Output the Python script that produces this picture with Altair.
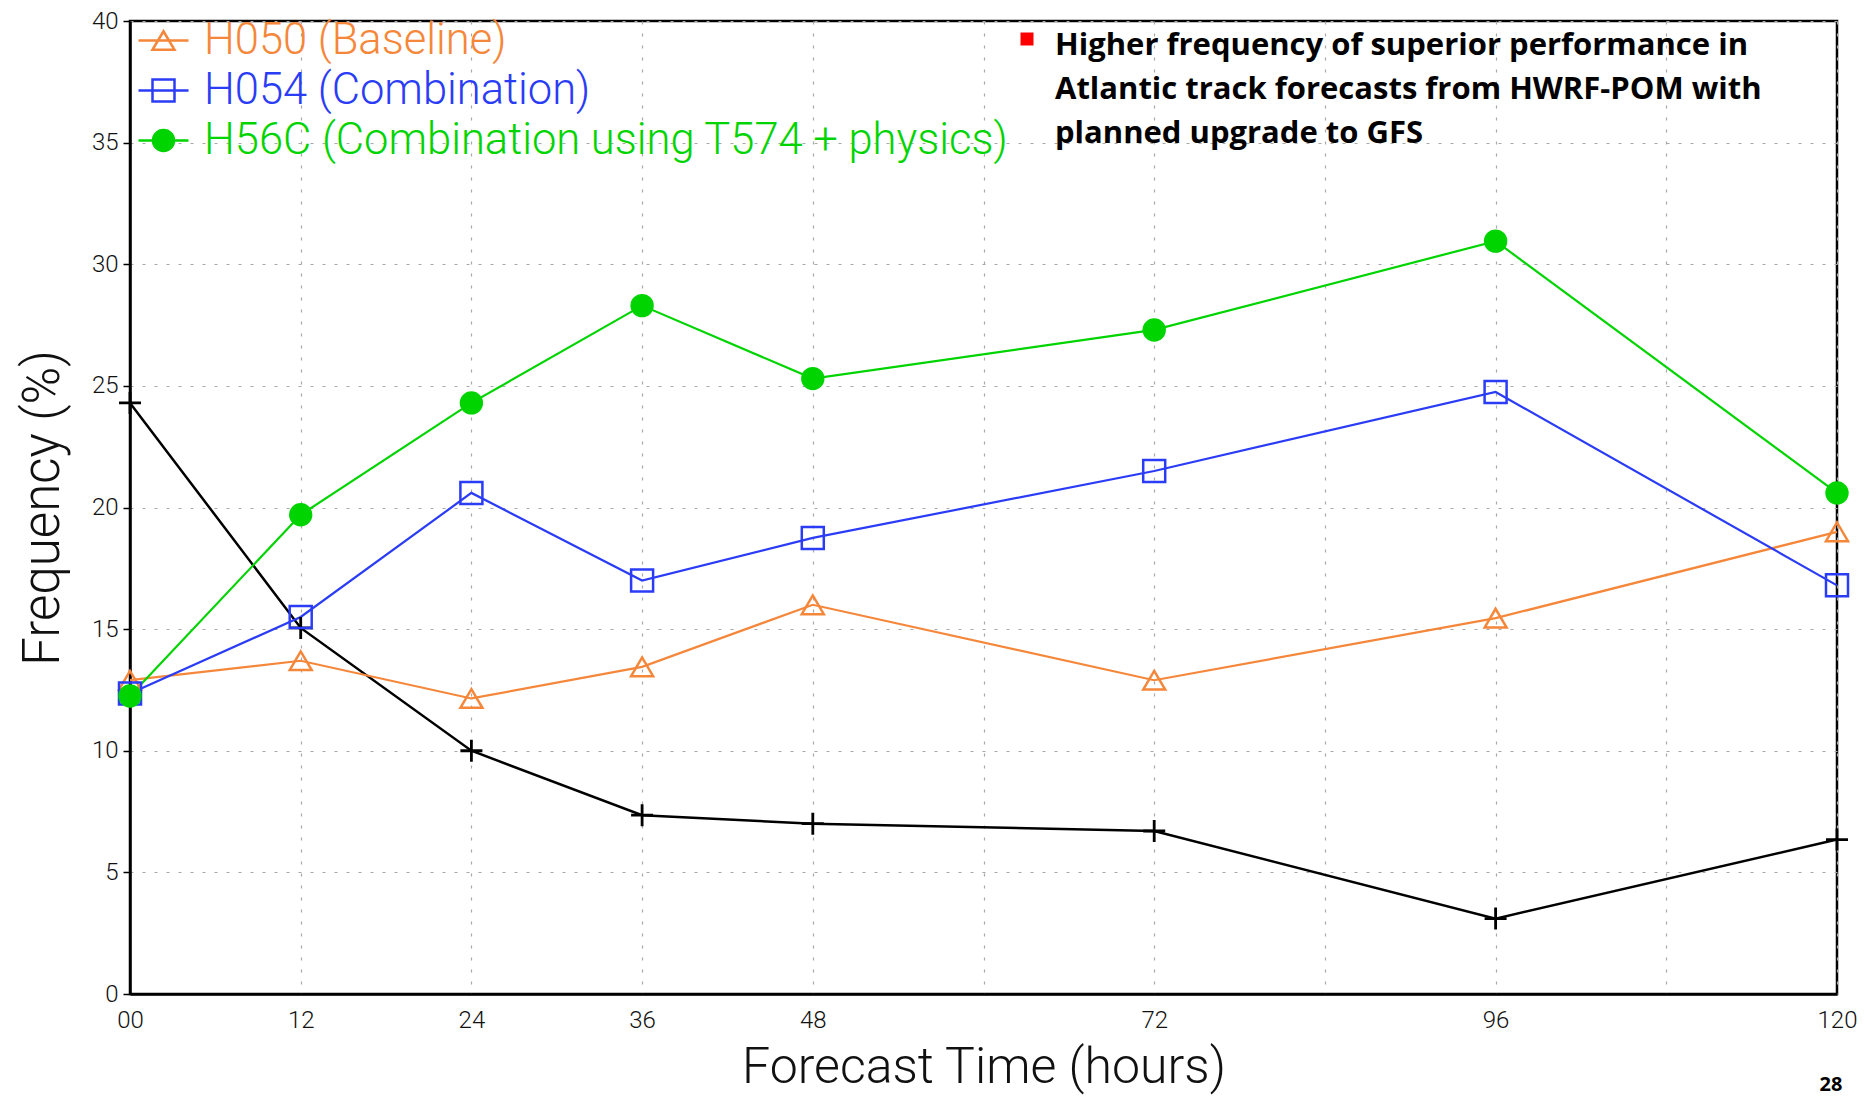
import altair as alt
import pandas as pd

# ---- data ----
hours = [0, 12, 24, 36, 48, 72, 96, 120]
h050 = [12.9, 13.7, 12.15, 13.45, 16.0, 12.9, 15.45, 19.0]
h054 = [12.35, 15.5, 20.6, 17.0, 18.75, 21.5, 24.75, 16.8]
h56c = [12.25, 19.7, 24.3, 28.3, 25.3, 27.3, 30.95, 20.6]
black_series = [24.3, 15.05, 10.0, 7.35, 7.0, 6.7, 3.1, 6.35]

series_names = ["H050 (Baseline)", "H054 (Combination)", "H56C (Combination using T574 + physics)"]
series_colors = ["#f5873b", "#2a3cf6", "#00d400"]
series_fills = ["transparent", "transparent", "#00d400"]

y_ticks = [0, 5, 10, 15, 20, 25, 30, 35, 40]
x_grid = [0, 12, 24, 36, 48, 60, 72, 84, 96, 108, 120]
x_unlabeled = [60, 84, 108]

note_lines = [
    "Higher frequency of superior performance in",
    "Atlantic track forecasts from HWRF-POM with",
    "planned upgrade to GFS",
]
page_number = "28"

# marker shapes (unit paths)
marker_paths = [
    "M-1,0.85L0,-0.85L1,0.85Z",
    "M-1,-1L1,-1L1,1L-1,1Z",
    "M-0.95,0A0.95,0.95 0 1,0 0.95,0A0.95,0.95 0 1,0 -0.95,0Z",
]
legend_paths = [
    "M-1,0L1,0M-0.44,0.37L0,-0.37L0.44,0.37Z",
    "M-1,0L1,0M-0.44,-0.44L0.44,-0.44L0.44,0.44L-0.44,0.44Z",
    "M-1,0L1,0M-0.42,0A0.42,0.42 0 1,0 0.42,0A0.42,0.42 0 1,0 -0.42,0Z",
]
cross_path = "M-1,0L1,0M0,-1L0,1"

rows = []
for name, vals in zip(series_names, [h050, h054, h56c]):
    for h, v in zip(hours, vals):
        rows.append({"hour": h, "value": v, "series": name})
df = pd.DataFrame(rows)
df_black = pd.DataFrame({"hour": hours, "value": black_series})

FONT = "Roboto"

label_expr = (
    "indexof([" + ",".join(str(v) for v in x_unlabeled) + "], datum.value) >= 0 ? '' : "
    "(datum.value == 0 ? '00' : datum.label)"
)

x_enc = alt.X(
    "hour:Q",
    scale=alt.Scale(domain=[0, 120], nice=False, zero=False),
    axis=alt.Axis(
        values=x_grid, labelExpr=label_expr, title="Forecast Time (hours)",
        ticks=False, labelPadding=14, titlePadding=10, labelFlush=False,
        titleFontSize=50,
    ),
)
y_enc = alt.Y(
    "value:Q",
    scale=alt.Scale(domain=[0, 40], nice=False),
    axis=alt.Axis(
        values=y_ticks, title="Frequency (%)", tickSize=7, labelPadding=5,
        titlePadding=22, labelFlush=False,
    ),
)

color_scale = alt.Scale(domain=series_names, range=series_colors)
fill_scale = alt.Scale(domain=series_names, range=series_fills)

base = alt.Chart(df)

lines = base.mark_line(strokeWidth=2.2).encode(
    x=x_enc, y=y_enc,
    color=alt.Color("series:N", scale=color_scale, legend=None),
    order=alt.Order("hour:Q"),
)

points = base.mark_point(filled=False, size=484, strokeWidth=2.5, opacity=1).encode(
    x=x_enc, y=y_enc,
    color=alt.Color("series:N", scale=color_scale, legend=None),
    fill=alt.Fill("series:N", scale=fill_scale, legend=None),
    shape=alt.Shape("series:N", scale=alt.Scale(domain=series_names, range=marker_paths), legend=None),
)

black_line = alt.Chart(df_black).mark_line(color="black", strokeWidth=2.5).encode(
    x=x_enc, y=y_enc
)
black_pts = alt.Chart(df_black).mark_point(
    shape=cross_path, color="black", size=484, strokeWidth=2.8, filled=False, opacity=1
).encode(x=x_enc, y=y_enc)

label_color_expr = (
    "[" + ",".join("'" + c + "'" for c in series_colors) + "]"
    "[indexof([" + ",".join("'" + n + "'" for n in series_names) + "], datum.value)]"
)
leg = alt.Legend(
    title=None, orient="none", legendX=7, legendY=-7, padding=0,
    symbolSize=2500, symbolStrokeWidth=2.5, symbolOpacity=1,
    labelFont=FONT, labelFontWeight=300, labelFontSize=43.5, labelLimit=2000,
    labelOffset=14, rowPadding=2,
    labelColor={"expr": label_color_expr},
)
legend_layer = base.transform_filter("false").mark_point(filled=False, size=2500, strokeWidth=2.5).encode(
    x=x_enc, y=y_enc,
    color=alt.Color("series:N", scale=alt.Scale(domain=series_names, range=series_colors), legend=leg),
    fill=alt.Fill("series:N", scale=alt.Scale(domain=series_names, range=series_fills), legend=leg),
    shape=alt.Shape("series:N", scale=alt.Scale(domain=series_names, range=legend_paths), legend=leg),
)

one = alt.Data(values=[{}])
note = alt.Chart(one).mark_text(
    text=note_lines, align="left", baseline="alphabetic", font="Open Sans",
    fontWeight="bold", fontSize=31, lineHeight=44, color="black",
).encode(x=alt.value(925), y=alt.value(34))
bullet = alt.Chart(one).mark_square(color="#ff0000", size=169, opacity=1, filled=True).encode(
    x=alt.value(897), y=alt.value(18)
)
page = alt.Chart(one).mark_text(
    text=page_number, align="center", baseline="alphabetic", font="Open Sans",
    fontWeight="bold", fontSize=20, color="black",
).encode(x=alt.value(1701), y=alt.value(1070))

chart = alt.layer(
    black_line, lines, black_pts, points, legend_layer, note, bullet, page
).resolve_scale(
    color="independent", fill="independent", shape="independent"
).properties(
    width=1707, height=973,
    autosize=alt.AutoSizeParams(type="none"),
    padding={"left": 122, "top": 13, "right": 20, "bottom": 106},
).configure_view(
    stroke="black", strokeWidth=2.5
).configure_axis(
    labelFont=FONT, labelFontWeight=300, labelFontSize=24, labelColor="#111111",
    titleFont=FONT, titleFontWeight=300, titleFontSize=51, titleColor="#111111",
    grid=True, gridColor="#a8a8a8", gridDash=[3, 9], gridWidth=1.2,
    domainColor="black", domainWidth=2.5, tickColor="black", tickWidth=1.5,
)

chart.save("out.html", embed_options={"renderer": "svg", "actions": False})
